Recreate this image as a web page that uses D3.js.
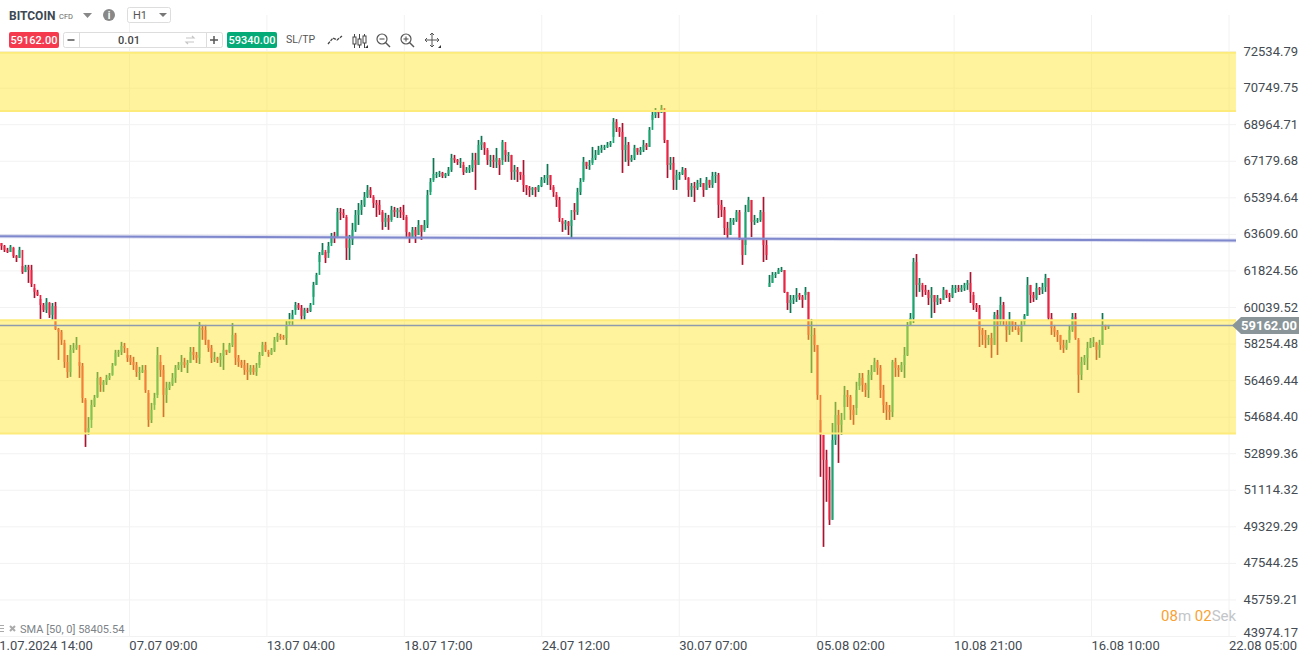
<!DOCTYPE html>
<html>
<head>
<meta charset="utf-8">
<script src="https://cdn.jsdelivr.net/npm/d3@7"></script>
<style>
html, body { margin: 0; padding: 0; background: #fff; overflow: hidden; }
svg { display: block; font-family: Roboto, sans-serif; }
</style>
</head>
<body>
<div id="chart"></div>
<script>
// H1 bars (one kept about every three hours)
var highs = [
63190,63090,62950,63090,62950,62600,63000,62070,62120,62120,
62120,60990,60900,60460,60260,60500,60260,60260,60310,59040,
58940,58310,57720,58210,58310,58600,57380,57330,55530,54690,
55530,55770,56890,56650,56500,56750,56840,57330,57970,57970,
58360,58310,57720,57720,57630,57380,57140,57230,57230,55870,
55380,55870,58110,57380,57230,56410,56410,56840,57230,57380,
57720,57580,57480,58110,58110,57870,59330,59190,59190,58460,
58210,57870,57630,57820,58310,57970,58310,59280,58800,57720,
57480,57480,57330,57230,57230,57330,57870,58360,58360,57870,
58060,58600,58800,58750,58700,59430,59770,59920,60310,60260,
60160,60020,60020,60260,61290,61730,62750,63190,62750,63240,
63680,63730,64900,64900,64850,64460,63580,64170,64800,65140,
65290,65680,66020,65920,65440,65290,65290,64700,64660,64560,
65000,64950,64900,64950,65050,64460,63680,63970,63970,64310,
64070,64310,65780,66360,67340,66660,66710,66660,66610,66900,
67540,67490,67290,67340,67000,66900,67000,67590,67590,68220,
68420,68070,67730,67490,67490,67830,67240,68220,67730,67630,
67490,67000,66900,66660,67240,66020,65970,65920,65920,66020,
66410,66510,67050,66510,65920,65530,65440,64260,64310,64260,
64310,65140,65880,66360,67390,67150,67240,67880,67730,67930,
67980,67980,68120,68170,69290,69240,68850,69050,68370,68120,
67490,67980,67830,67880,68220,68070,68850,69590,69780,69640,
69930,69590,68220,67390,67390,66760,66660,66900,66850,66360,
66120,66170,66270,66360,66120,66410,66270,66660,66660,66610,
65290,64950,64220,64410,64410,64800,64800,63430,65050,65440,
65290,64560,64410,64800,65440,63340,61630,61770,61770,61970,
62020,61870,60800,60650,60650,60990,60750,60650,61040,60800,
59480,59040,58210,54550,53820,53090,52260,54400,55430,55040,
54890,56210,56010,55770,55280,56410,56840,56840,56360,56990,
57230,57580,57480,57230,56260,55430,55280,57480,57580,57230,
57380,58110,59330,59770,62460,62650,61480,61140,61140,60900,
61040,60650,60650,60460,61040,60900,60750,61140,61140,61140,
61140,61240,61380,61770,60650,60260,60160,59040,58940,58700,
58800,59820,59920,60560,60310,59190,59820,59430,59330,59040,
59430,59720,61530,61140,60800,61240,61040,61240,61680,61480,
59770,59190,58940,58700,58460,58460,59190,59770,59770,58460,
57630,57720,58360,58550,58600,58310,58460,59770,59190,59190
];
var lows = [
62850,62750,62700,62750,62460,62260,62460,61680,61770,61240,
61040,60500,60600,59480,59820,59770,59530,59430,58940,57480,
58210,57090,56600,56650,57820,57970,56600,55380,53230,53820,
54550,55180,55670,55920,55920,56260,56500,56750,57230,57630,
57720,57820,57380,57230,56990,56650,56500,56840,55870,54210,
54400,55280,55770,56650,54690,55380,56010,56210,56360,56990,
56890,57090,56840,57330,57480,57330,57280,58460,58210,57870,
57330,57380,57330,57140,56990,57720,57820,58110,57230,57140,
57090,56750,56500,56750,56750,56700,57230,57670,57870,57630,
57720,57870,58360,58460,58460,58210,59280,59190,59920,59920,
59430,59430,59770,59820,60560,61140,62260,62600,62210,62700,
63190,63190,63430,64310,64410,62360,62360,63090,63730,64070,
64560,64950,65390,65390,64900,64460,64560,63830,63970,63830,
64310,64460,64410,64410,64310,63430,63190,63430,63190,63580,
63340,63830,63920,65680,66270,66360,66410,66360,66360,66460,
66660,67100,67000,66850,66510,66610,66610,66660,65780,67000,
67730,67490,67000,66900,66850,66850,66510,67240,67150,67150,
66270,66270,66170,66270,65680,65530,65440,65530,65440,65680,
65920,66120,66020,65780,65440,64950,64220,63730,63830,63580,
63430,64310,64560,65530,66270,66800,66760,67100,67240,67490,
67590,67730,67830,67880,68370,68610,68370,66610,67150,66950,
67150,67240,67490,67490,67630,67730,67880,69200,69290,69290,
69540,68070,66360,66760,65780,65780,66270,66510,66270,65440,
65440,65190,65780,65920,65440,65780,65880,65880,66120,64410,
64460,63580,63430,63580,64070,64220,63340,62120,63090,64700,
63480,64070,64170,64220,62260,62360,61040,61240,61480,61680,
61770,60750,59920,59770,60210,60310,60410,60020,60650,58460,
56840,57870,55530,51770,48350,50550,49420,49670,53330,52450,
53820,55180,55180,54550,54310,55130,56210,55920,55670,55620,
56500,56890,56750,55620,54890,54550,54550,54690,56650,56650,
56890,56600,57670,59190,59280,60560,60800,60560,60650,60160,
59530,59770,60160,60210,60410,60500,60310,60500,60750,60800,
60800,60850,60900,60260,59920,59820,58110,58210,58060,58210,
57580,58210,57720,59330,59190,58360,58700,58850,58940,58700,
58360,59330,59630,60260,60310,60410,60650,60700,60800,59430,
58700,58600,58360,57970,57820,57970,58460,58850,58460,55870,
56500,57230,56990,58060,58110,57480,57580,58210,58940,58990
];
var closes = [
63040,62850,62750,63000,62550,62460,62850,61770,62020,61870,
61190,60800,60650,60160,59920,60310,59680,60110,58990,58850,
58460,57380,56890,57970,58060,58210,57190,55620,53960,54160,
55280,55620,56600,56260,56410,56600,56700,57190,57820,57870,
58160,58060,57580,57380,57230,56890,56890,56990,56010,54550,
55040,55620,57720,56990,55770,56110,56310,56600,57090,57230,
57380,57230,57330,57870,57720,57580,59040,58940,58460,58060,
57580,57580,57480,57670,57970,57870,58210,58700,57580,57380,
57230,56990,56890,57090,56890,57090,57720,58210,57970,57770,
57970,58460,58650,58600,58550,59190,59430,59680,60160,60020,
59630,59920,59870,60160,61140,61630,62600,62850,62460,63040,
63530,63430,64700,64660,64560,62950,63340,63830,64560,64800,
65050,65440,65780,65530,65140,65050,64800,64220,64410,64220,
64800,64700,64800,64700,64560,63730,63430,63830,63580,64070,
63730,64070,65530,66170,66560,66560,66610,66460,66560,66760,
67340,67240,67150,67150,66660,66760,66850,67240,67000,67980,
68120,67830,67240,67240,67150,67340,67000,68120,67490,67490,
66660,66760,66660,66510,66020,65880,65780,65880,65780,65970,
66270,66360,66510,66020,65680,65290,64410,64120,64220,64020,
64800,64700,65680,66170,67150,66950,67000,67340,67490,67730,
67830,67880,67980,68070,69100,68800,68610,67730,67980,67240,
67340,67830,67630,67730,67980,67880,68710,69440,69590,69540,
69780,68220,67000,67100,66270,66510,66560,66760,66410,65780,
65970,65880,66120,66120,65780,66270,66020,66460,66510,65050,
64800,63920,63580,64220,64310,64700,63430,62600,64700,65290,
64220,64310,64310,64700,63090,62600,61240,61630,61680,61870,
61870,60800,60260,60410,60500,60650,60560,60410,60800,58700,
58700,58210,55770,53820,52600,51620,49670,53570,54790,54310,
54550,55770,55670,55040,54790,56010,56600,56260,56010,56750,
56890,57380,57090,56010,55280,55040,54940,57380,57090,56990,
57230,57720,59190,59530,62260,61140,61240,60900,60800,60500,
60650,60310,60500,60410,60900,60650,60560,60990,60990,60900,
60990,61140,61240,60800,60160,60020,58940,58700,58460,58550,
58210,59680,59190,60160,59430,58940,59430,59190,59140,58850,
59190,59630,61140,60650,60500,60990,60900,61040,61480,59530,
59040,58850,58700,58210,58060,58310,58940,59580,58550,56750,
57380,57580,58060,58360,58360,57970,58210,59190,59090,59162
];
var gapBars = [256];   // feed gap, this bar does not open at the previous close

var priceTicks = [72534.79,70749.75,68964.71,67179.68,65394.64,63609.60,61824.56,60039.52,58254.48,56469.44,54684.40,52899.36,51114.32,49329.29,47544.25,45759.21,43974.17];
var timeLabels = ["01.07.2024 14:00","07.07 09:00","13.07 04:00","18.07 17:00","24.07 12:00","30.07 07:00","05.08 02:00","10.08 21:00","16.08 10:00","22.08 05:00"];
var zoneBands = [[72480,69640],[59420,53890]];
var trendLine = [63520,63310];
var bidPrice = 59162.00, askPrice = 59340.00, lotSize = "0.01", smaValue = 58405.54;

var width = 1307, height = 656, plotRight = 1236, plotBottom = 636.5;

var svg = d3.select("#chart").append("svg")
    .attr("width", width)
    .attr("height", height);

var y = d3.scaleLinear()
    .domain([43974.17, 72534.79])
    .range([plotBottom, 51.6]);
var x = d3.scaleLinear()
    .domain([0, closes.length - 1])
    .range([1, 1108]);
var xTime = d3.scaleLinear()
    .domain([0, timeLabels.length - 1])
    .range([-8, 1229]);

// grid
svg.append("g").selectAll("line").data(priceTicks).enter().append("line")
    .attr("x1", 0).attr("x2", plotRight)
    .attr("y1", function(d) { return y(d); }).attr("y2", function(d) { return y(d); })
    .attr("stroke", "#f2f2f3").attr("stroke-width", 1);
svg.append("g").selectAll("line").data(d3.range(timeLabels.length)).enter().append("line")
    .attr("x1", function(d) { return xTime(d); }).attr("x2", function(d) { return xTime(d); })
    .attr("y1", 15).attr("y2", plotBottom)
    .attr("stroke", "#f2f2f3").attr("stroke-width", 1);

// candles
var bars = closes.map(function(c, i) {
    var o = i > 0 ? closes[i - 1] : highs[0];
    if (gapBars.indexOf(i) >= 0) o = lows[i];
    return {i: i, o: o, h: highs[i], l: lows[i], c: c, up: c >= o};
});
var candles = svg.append("g");
candles.selectAll(".wick").data(bars).enter().append("line")
    .attr("class", "wick")
    .attr("x1", function(d) { return x(d.i) + 0.5; })
    .attr("x2", function(d) { return x(d.i) + 0.5; })
    .attr("y1", function(d) { return y(d.h); })
    .attr("y2", function(d) { return y(d.l); })
    .attr("stroke", function(d) { return d.up ? "#0d7552" : "#a8142f"; })
    .attr("stroke-width", 1.7);
candles.selectAll(".body").data(bars).enter().append("rect")
    .attr("class", "body")
    .attr("x", function(d) { return x(d.i) - 0.4; })
    .attr("y", function(d) { return y(Math.max(d.o, d.c)); })
    .attr("width", 1.7)
    .attr("height", function(d) { return Math.max(1, Math.abs(y(d.o) - y(d.c))); })
    .attr("fill", function(d) { return d.up ? "#12a86f" : "#f5203f"; });

// yellow zones sit over the candles
svg.append("g").selectAll("rect").data(zoneBands).enter().append("rect")
    .attr("x", 0).attr("width", plotRight)
    .attr("y", function(d) { return y(d[0]); })
    .attr("height", function(d) { return y(d[1]) - y(d[0]); })
    .attr("fill", "#ffe52e").attr("fill-opacity", 0.47);
zoneBands.forEach(function(d) {
    d.forEach(function(p) {
        svg.append("line")
            .attr("x1", 0).attr("x2", plotRight)
            .attr("y1", y(p)).attr("y2", y(p))
            .attr("stroke", "#fdec7c").attr("stroke-width", 2);
    });
});

// trend line
svg.append("line")
    .attr("x1", 0).attr("x2", plotRight)
    .attr("y1", y(trendLine[0])).attr("y2", y(trendLine[1]))
    .attr("stroke", "#8087cf").attr("stroke-opacity", 0.25).attr("stroke-width", 4);
svg.append("line")
    .attr("x1", 0).attr("x2", plotRight)
    .attr("y1", y(trendLine[0])).attr("y2", y(trendLine[1]))
    .attr("stroke", "#7f88cc").attr("stroke-width", 2);

// current price
var bidY = Math.round(y(bidPrice)) + 0.5;
svg.append("line")
    .attr("x1", 0).attr("x2", 1236)
    .attr("y1", bidY).attr("y2", bidY)
    .attr("stroke", "#8e9aad").attr("stroke-width", 1.4);
svg.append("path")
    .attr("d", "M1232," + bidY + "L1241," + (bidY - 8.5) + "H1299V" + (bidY + 8.5) + "H1241Z")
    .attr("fill", "#8a9599");
svg.append("text")
    .attr("x", 1297).attr("y", bidY + 4.5)
    .attr("text-anchor", "end")
    .attr("font-size", 13).attr("font-weight", 700).attr("fill", "#fff")
    .text(bidPrice.toFixed(2));

// axes
var yAxis = svg.append("g")
    .attr("transform", "translate(1298,0)")
    .call(d3.axisLeft(y).tickValues(priceTicks).tickSize(0).tickPadding(0).tickFormat(function(d) { return d.toFixed(2); }));
yAxis.select(".domain").remove();
yAxis.selectAll("text")
    .attr("font-family", "Roboto, sans-serif").attr("font-size", 13).attr("fill", "#444b52")
    .attr("dy", function(d) { return d === 43974.17 ? "0em" : "0.27em"; });

var xAxis = svg.append("g")
    .attr("transform", "translate(0," + plotBottom + ")")
    .call(d3.axisBottom(xTime).tickValues(d3.range(timeLabels.length)).tickSize(0).tickPadding(0)
        .tickFormat(function(d) { return timeLabels[d]; }));
xAxis.select(".domain").remove();
xAxis.selectAll("text")
    .attr("font-family", "Roboto, sans-serif").attr("font-size", 13).attr("fill", "#444b52")
    .attr("text-anchor", "start").attr("x", -0.6).attr("y", 13).attr("dy", 0);

// countdown
var countdown = svg.append("text")
    .attr("x", 1161).attr("y", 621).attr("font-size", 15);
countdown.append("tspan").attr("fill", "#f8a233").text("08");
countdown.append("tspan").attr("fill", "#c3c6c9").text("m ");
countdown.append("tspan").attr("fill", "#f8a233").text("02");
countdown.append("tspan").attr("fill", "#c3c6c9").text("Sek");

// indicator legend
svg.append("path").attr("d", "M0,625.5h4M0,628.5h4M0,631.5h4").attr("stroke", "#aaa").attr("stroke-width", 1.2);
svg.append("path").attr("d", "M10,626l5,5M15,626l-5,5").attr("stroke", "#aaa").attr("stroke-width", 2);
svg.append("text")
    .attr("x", 20).attr("y", 633).attr("font-size", 11).attr("fill", "#7d8388")
    .text("SMA [50, 0] " + smaValue);

// toolbar, first row
svg.append("text").attr("x", 9).attr("y", 20).attr("font-size", 12).attr("font-weight", 700).attr("fill", "#3c4852").text("BITCOIN");
svg.append("text").attr("x", 59).attr("y", 19).attr("font-size", 7.5).attr("fill", "#666").text("CFD");
svg.append("path").attr("d", "M83,13H92L87.5,18Z").attr("fill", "#888");
svg.append("circle").attr("cx", 109).attr("cy", 15).attr("r", 6).attr("fill", "#888");
svg.append("text").attr("x", 109).attr("y", 19).attr("text-anchor", "middle").attr("font-size", 10).attr("font-weight", 700).attr("fill", "#fff").text("i");
svg.append("rect").attr("x", 127.5).attr("y", 7.5).attr("width", 43).attr("height", 15).attr("rx", 2).attr("fill", "#fff").attr("stroke", "#ddd");
svg.append("text").attr("x", 133).attr("y", 19).attr("font-size", 11).attr("fill", "#555").text("H1");
svg.append("path").attr("d", "M159,13H167L163,17Z").attr("fill", "#777");

// toolbar, second row
svg.append("rect").attr("x", 9).attr("y", 32).attr("width", 50).attr("height", 16).attr("rx", 2).attr("fill", "#f53a4e");
svg.append("text").attr("x", 34).attr("y", 44).attr("text-anchor", "middle").attr("font-size", 11).attr("font-weight", 500).attr("fill", "#fff").text(bidPrice.toFixed(2));
svg.append("rect").attr("x", 63.5).attr("y", 32.5).attr("width", 159).attr("height", 15).attr("rx", 2).attr("fill", "#fff").attr("stroke", "#ddd");
svg.append("path").attr("d", "M79.5,32.5v15M206.5,32.5v15").attr("stroke", "#ddd");
svg.append("path").attr("d", "M67.5,40h7").attr("stroke", "#555").attr("stroke-width", 1.5);
svg.append("path").attr("d", "M210,40h8M214,36v8").attr("stroke", "#555").attr("stroke-width", 1.5);
svg.append("text").attr("x", 129).attr("y", 44).attr("text-anchor", "middle").attr("font-size", 11).attr("font-weight", 500).attr("fill", "#444").text(lotSize);
svg.append("path").attr("d", "M186,38h8l-2,-2M194,42h-8l2,2").attr("fill", "none").attr("stroke", "#c5c5c5").attr("stroke-width", 1.2);
svg.append("rect").attr("x", 227).attr("y", 32).attr("width", 50).attr("height", 16).attr("rx", 2).attr("fill", "#05ab76");
svg.append("text").attr("x", 252).attr("y", 44).attr("text-anchor", "middle").attr("font-size", 11).attr("font-weight", 500).attr("fill", "#fff").text(askPrice.toFixed(2));
svg.append("text").attr("x", 286).attr("y", 43).attr("font-size", 10.5).attr("fill", "#555").text("SL/TP");

// chart tools
svg.append("path").attr("d", "M328,44L333,38L337,40L342,36").attr("fill", "none").attr("stroke", "#444").attr("stroke-width", 1.3).attr("stroke-dasharray", "3 1");
svg.append("path").attr("d", "M354.5,34v14M359.5,34v14M364.5,34v14").attr("stroke", "#444");
svg.append("rect").attr("x", 353).attr("y", 37).attr("width", 3).attr("height", 7).attr("fill", "#fff").attr("stroke", "#444");
svg.append("rect").attr("x", 358).attr("y", 39).attr("width", 3).attr("height", 6).attr("fill", "#fff").attr("stroke", "#444");
svg.append("rect").attr("x", 363).attr("y", 36).attr("width", 3).attr("height", 7).attr("fill", "#fff").attr("stroke", "#444");
svg.append("path").attr("d", "M365,48h3v-3Z").attr("fill", "#333");
[382, 406].forEach(function(cx) {
    svg.append("circle").attr("cx", cx).attr("cy", 39).attr("r", 5).attr("fill", "none").attr("stroke", "#555").attr("stroke-width", 1.2);
    svg.append("path").attr("d", "M" + (cx + 3.5) + ",42.5l4.5,4.5").attr("stroke", "#555").attr("stroke-width", 1.4);
    svg.append("path").attr("d", "M" + (cx - 2.5) + ",39h5").attr("stroke", "#555").attr("stroke-width", 1.1);
});
svg.append("path").attr("d", "M406,36.5v5").attr("stroke", "#555").attr("stroke-width", 1.1);
svg.append("path").attr("d", "M432,33v14M425,40h14M430,35l2,-2l2,2M430,45l2,2l2,-2M427,38l-2,2l2,2M437,38l2,2l-2,2").attr("fill", "none").attr("stroke", "#555");
svg.append("path").attr("d", "M438,48h3v-3Z").attr("fill", "#333");
</script>
</body>
</html>
